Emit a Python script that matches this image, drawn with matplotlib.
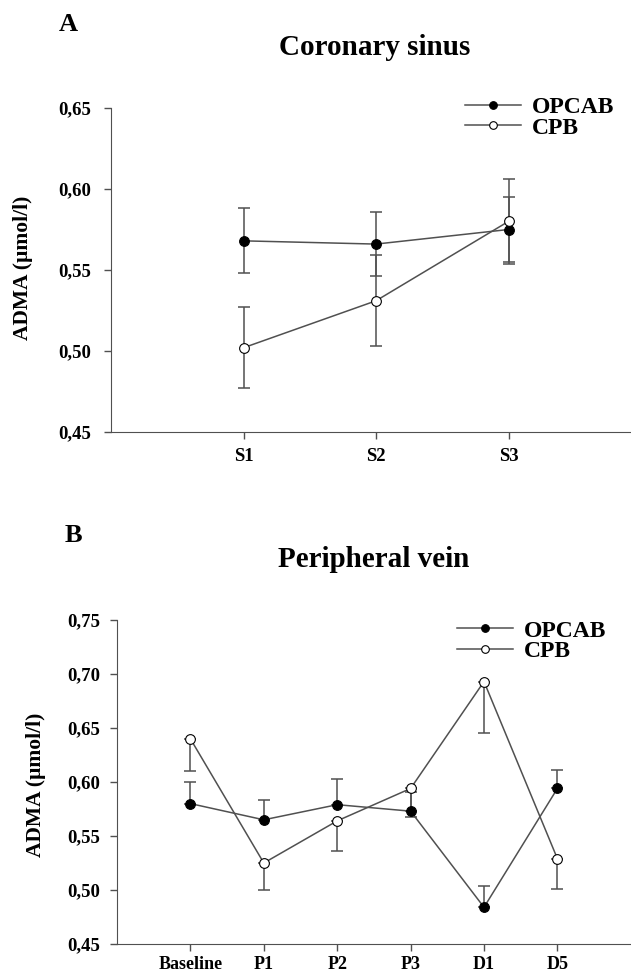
import matplotlib.pyplot as plt
from matplotlib.lines import Line2D

# panel A - coronary sinus
cs_labels = ['S1', 'S2', 'S3']
cs_opcab = [0.568, 0.566, 0.575]
cs_opcab_err = [0.020, 0.020, 0.020]
cs_cpb = [0.502, 0.531, 0.580]
cs_cpb_err = [0.025, 0.028, 0.026]

# panel B - peripheral vein (one-sided error bars)
pv_labels = ['Baseline', 'P1', 'P2', 'P3', 'D1', 'D5']
pv_opcab = [0.580, 0.565, 0.579, 0.573, 0.484, 0.594]
pv_opcab_up = [0.020, 0.018, 0.024, 0.018, 0.020, 0.017]
pv_cpb = [0.640, 0.525, 0.564, 0.594, 0.693, 0.529]
pv_cpb_down = [0.030, 0.025, 0.028, 0.026, 0.048, 0.028]

serif = 'Liberation Serif'
gray = '#505050'

fig = plt.figure(figsize=(6.31, 9.76), dpi=100)


def style_axes(ax, ylim, yticks, ypad, xpad):
    ax.spines['top'].set_visible(False)
    ax.spines['right'].set_visible(False)
    ax.spines['left'].set_color(gray)
    ax.spines['bottom'].set_color(gray)
    ax.set_ylim(*ylim)
    ax.set_yticks(yticks)
    ax.set_yticklabels([('%.2f' % v).replace('.', ',') for v in yticks],
                       fontfamily=serif, fontweight='bold', fontsize=13.5)
    ax.tick_params(direction='out', length=5, width=1, color=gray)
    ax.tick_params(axis='y', pad=ypad)
    ax.tick_params(axis='x', pad=xpad)


def series(ax, x, y, yerr, filled):
    ax.errorbar(x, y, yerr=yerr, fmt='none', ecolor=gray, elinewidth=1.1,
                capsize=4, capthick=1.1, zorder=2)
    ax.plot(x, y, '-o', color=gray, lw=1.1, ms=7,
            mfc='black' if filled else 'white', mec='black', mew=0.8, zorder=3)


def legend(ax, anchor):
    h = [Line2D([], [], color=gray, lw=1.1, marker='o', ms=5.5, mfc='black', mec='black', mew=0.8),
         Line2D([], [], color=gray, lw=1.1, marker='o', ms=5.5, mfc='white', mec='black', mew=0.8)]
    ax.legend(h, ['OPCAB', 'CPB'], loc='upper left', bbox_to_anchor=anchor,
              frameon=False, borderpad=0, borderaxespad=0, handlelength=2.4,
              handletextpad=0.45, labelspacing=-0.05,
              prop={'family': serif, 'weight': 'bold', 'size': 17})


# ---- A ----
axA = fig.add_axes([111 / 631, 1 - 432 / 976, 520 / 631, 324 / 976])
xa = list(range(1, len(cs_labels) + 1))
series(axA, xa, cs_opcab, cs_opcab_err, True)
series(axA, xa, cs_cpb, cs_cpb_err, False)
axA.set_xlim(0, 520 / 132.5)
axA.set_xticks(xa)
axA.set_xticklabels(cs_labels, fontfamily=serif, fontweight='bold', fontsize=13.5)
style_axes(axA, (0.45, 0.65), [0.45, 0.50, 0.55, 0.60, 0.65], 9.4, 6.5)
axA.set_ylabel('ADMA (µmol/l)', fontfamily=serif, fontweight='bold', fontsize=15.5)
axA.yaxis.set_label_coords(-0.15, 0.506)
legend(axA, (0.680, 1.035))
fig.text(68 / 631, 1 - 31 / 976, 'A', fontfamily=serif, fontweight='bold', fontsize=19,
         ha='center', va='baseline')
fig.text(375 / 631, 1 - 55 / 976, 'Coronary sinus', fontfamily=serif, fontweight='bold',
         fontsize=21, ha='center', va='baseline')

# ---- B ----
axB = fig.add_axes([117 / 631, 1 - 944 / 976, 514 / 631, 324 / 976])
xb = list(range(1, len(pv_labels) + 1))
series(axB, xb, pv_opcab, [[0] * len(pv_opcab), pv_opcab_up], True)
series(axB, xb, pv_cpb, [pv_cpb_down, [0] * len(pv_cpb)], False)
axB.set_xlim(0, 514 / 73.4)
axB.set_xticks(xb)
axB.set_xticklabels(pv_labels, fontfamily=serif, fontweight='bold', fontsize=13)
style_axes(axB, (0.45, 0.75), [0.45, 0.50, 0.55, 0.60, 0.65, 0.70, 0.75], 7.2, 3.5)
axB.set_xticklabels(pv_labels, fontfamily=serif, fontweight='bold', fontsize=13)
axB.set_ylabel('ADMA (µmol/l)', fontfamily=serif, fontweight='bold', fontsize=15.5)
axB.yaxis.set_label_coords(-0.138, 0.49)
legend(axB, (0.661, 1.0))
fig.text(73 / 631, 1 - 542 / 976, 'B', fontfamily=serif, fontweight='bold', fontsize=19,
         ha='center', va='baseline')
fig.text(374 / 631, 1 - 567 / 976, 'Peripheral vein', fontfamily=serif, fontweight='bold',
         fontsize=21, ha='center', va='baseline')

fig.savefig('out.png', dpi=100)
